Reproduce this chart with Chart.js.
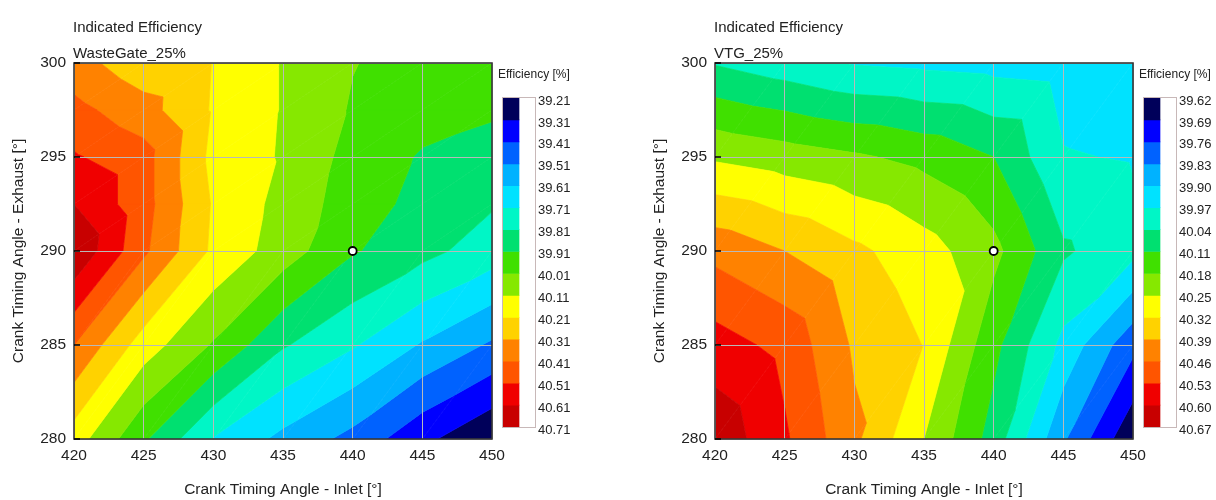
<!DOCTYPE html>
<html><head><meta charset="utf-8">
<script src="https://cdn.jsdelivr.net/npm/chart.js@4.4.1/dist/chart.umd.min.js"></script>
<style>
html,body{margin:0;padding:0;background:#fff;}
body{width:1216px;height:500px;position:relative;overflow:hidden;}
.c{position:absolute;top:0;}
</style></head><body>
<div class="c" style="left:0px"><canvas id="m1" width="512" height="500"></canvas></div>
<div class="c" style="left:495px"><canvas id="b1" width="110" height="500"></canvas></div>
<div class="c" style="left:641px"><canvas id="m2" width="512" height="500"></canvas></div>
<div class="c" style="left:1136px"><canvas id="b2" width="80" height="500"></canvas></div>
<script>
// ---------------- data ----------------
const inletAngles = [420, 425, 430, 435, 440, 445, 450];
const wgExhaustAngles = [280, 285, 290, 292.5, 295, 297.5, 300];
const vtgExhaustAngles = [280, 285, 290, 295, 300];
const wgLevels = [39.21, 39.31, 39.41, 39.51, 39.61, 39.71, 39.81, 39.91, 40.01, 40.11, 40.21, 40.31, 40.41, 40.51, 40.61, 40.71];
const vtgLevels = [39.62, 39.69, 39.76, 39.83, 39.90, 39.97, 40.04, 40.11, 40.18, 40.25, 40.32, 40.39, 40.46, 40.53, 40.60, 40.67];
const bandColors = ['#00005a', '#0000ff', '#0062ff', '#00b2ff', '#00e2ff', '#00f6c6', '#00e070', '#40e000', '#86e800', '#ffff00', '#ffd200', '#ff8200', '#ff5500', '#f00000', '#c80000'];
// WasteGate_25%: one row per exhaust angle, columns follow inletAngles
const wgEff280 = [40.16, 39.925, 39.705, 39.583, 39.479, 39.335, 39.22];
const wgEff285 = [40.41, 40.16, 40.00, 39.82, 39.72, 39.60, 39.495];
const wgEff290 = [40.70, 40.43, 40.19, 40.06, 39.92, 39.84, 39.76];
const wgEff2925 = [40.61, 40.45, 40.20, 40.077, 39.96, 39.878, 39.82];
const wgEff295 = [40.52, 40.45, 40.18, 40.10, 39.975, 39.90, 39.88];
const wgEff2975 = [40.44, 40.35, 40.20, 40.104, 40.00, 39.95, 39.92];
const wgEff300 = [40.35, 40.245, 40.206, 40.104, 40.014, 39.97, 39.97];
// VTG_25%
const vtgEff280 = [40.65, 40.54, 40.405, 40.25, 40.08, 39.84, 39.63];
const vtgEff285 = [40.56, 40.51, 40.38, 40.318, 40.13, 39.95, 39.78];
const vtgEff290 = [40.44, 40.39, 40.335, 40.28, 40.20, 40.05, 39.99];
const vtgEff295 = [40.24, 40.215, 40.19, 40.16, 40.11, 39.975, 39.965];
const vtgEff300 = [40.035, 40.00, 39.965, 39.955, 39.945, 39.935, 39.92];
const operatingPoint = [{x: 440, y: 290}];
const xTitle = 'Crank Timing Angle - Inlet [°]';
const yTitle = 'Crank Timing Angle - Exhaust [°]';
const chartTitle = 'Indicated Efficiency';
const cbTitle = 'Efficiency [%]';

// ---------------- helpers ----------------
const FONT = '"Liberation Sans", Arial, sans-serif';
Chart.defaults.font.family = FONT;
Chart.defaults.color = '#222';

function clipPoly(poly, level, keepAbove) {
  const out = [];
  for (let i = 0; i < poly.length; i++) {
    const a = poly[i], b = poly[(i + 1) % poly.length];
    const ina = keepAbove ? a.v >= level : a.v <= level;
    const inb = keepAbove ? b.v >= level : b.v <= level;
    if (ina) out.push(a);
    if (ina !== inb) {
      const t = (level - a.v) / (b.v - a.v);
      out.push({x: a.x + t * (b.x - a.x), y: a.y + t * (b.y - a.y), v: level});
    }
  }
  return out;
}

function contourPlugin(xsVals, ysVals, rows, levels) {
  return {
    id: 'contour',
    beforeDraw(chart) {
      const {ctx, chartArea: a, scales} = chart;
      const xs = scales.x, ys = scales.y;
      const nb = levels.length - 1;
      ctx.save();
      ctx.beginPath();
      ctx.rect(a.left, a.top, a.right - a.left, a.bottom - a.top);
      ctx.clip();
      ctx.lineJoin = 'round';
      ctx.lineWidth = 0.7;
      const P = (ii, jj) => ({x: xsVals[ii], y: ysVals[jj], v: rows[jj][ii]});
      for (let j = 0; j < ysVals.length - 1; j++) {
        for (let i = 0; i < xsVals.length - 1; i++) {
          const p00 = P(i, j), p10 = P(i + 1, j), p01 = P(i, j + 1), p11 = P(i + 1, j + 1);
          const tris = [[p00, p10, p11], [p00, p11, p01]];
          for (const tri of tris) {
            for (let b = 0; b < nb; b++) {
              let poly = tri;
              if (b > 0) poly = clipPoly(poly, levels[b], true);
              if (poly.length < 3) continue;
              if (b < nb - 1) poly = clipPoly(poly, levels[b + 1], false);
              if (poly.length < 3) continue;
              ctx.beginPath();
              poly.forEach((p, k) => {
                const px = xs.getPixelForValue(p.x), py = ys.getPixelForValue(p.y);
                if (k === 0) ctx.moveTo(px, py); else ctx.lineTo(px, py);
              });
              ctx.closePath();
              ctx.fillStyle = bandColors[b];
              ctx.strokeStyle = bandColors[b];
              ctx.fill();
              ctx.stroke();
            }
          }
        }
      }
      ctx.restore();
    },
    afterDraw(chart) {
      const {ctx, chartArea: a, scales} = chart;
      ctx.save();
      ctx.strokeStyle = '#383838';
      ctx.lineWidth = 1.6;
      ctx.strokeRect(a.left, a.top, a.right - a.left, a.bottom - a.top);
      ctx.lineWidth = 1.5;
      ctx.strokeStyle = '#000';
      scales.y.ticks.forEach(t => {
        const py = scales.y.getPixelForValue(t.value);
        ctx.beginPath(); ctx.moveTo(a.left, py); ctx.lineTo(a.left + 6, py); ctx.stroke();
      });
      ctx.restore();
    }
  };
}

function titlePlugin(sub) {
  return {
    id: 'titles',
    afterDraw(chart) {
      const {ctx, chartArea: a} = chart;
      ctx.save();
      ctx.fillStyle = '#222';
      ctx.font = '15px ' + FONT;
      ctx.textBaseline = 'alphabetic';
      ctx.textAlign = 'left';
      ctx.fillText(chartTitle, a.left - 1, 32);
      ctx.fillText(sub, a.left - 1, 58);
      ctx.restore();
    }
  };
}

function makeMain(id, exhaust, rows, levels, sub) {
  new Chart(document.getElementById(id), {
    type: 'scatter',
    data: {datasets: [{
      data: operatingPoint,
      pointRadius: 4, pointHoverRadius: 4,
      pointBackgroundColor: '#fff', pointBorderColor: '#000', pointBorderWidth: 1.8,
      clip: false
    }]},
    options: {
      responsive: false, animation: false, devicePixelRatio: 1,
      events: [],
      layout: {padding: {top: 63, right: 20, left: 0, bottom: 0}},
      plugins: {legend: {display: false}, tooltip: {enabled: false}},
      scales: {
        x: {
          type: 'linear', min: 420, max: 450,
          ticks: {stepSize: 5, padding: 7, font: {size: 15.5}, color: '#222', maxRotation: 0},
          grid: {color: '#b9b9b9', lineWidth: 1, drawTicks: false},
          border: {display: false},
          title: {display: true, text: xTitle, font: {size: 15.5}, color: '#222', padding: {top: 0, bottom: 1}},
          afterFit(s) { s.height = 61; }
        },
        y: {
          type: 'linear', min: 280, max: 300,
          ticks: {stepSize: 5, padding: 8, font: {size: 15.5}, color: '#222'},
          grid: {color: '#b9b9b9', lineWidth: 1, drawTicks: false},
          border: {display: false},
          title: {display: true, text: yTitle, font: {size: 15.5}, color: '#222', padding: {top: 9, bottom: 0}},
          afterFit(s) { s.width = 74; }
        }
      }
    },
    plugins: [contourPlugin(inletAngles, exhaust, rows, levels), titlePlugin(sub)]
  });
}

function makeColorbar(id, levels, cw) {
  const datasets = bandColors.map((c, b) => ({
    data: [[levels[b], levels[b + 1]]],
    backgroundColor: c, borderWidth: 0,
    barPercentage: 1, categoryPercentage: 1, grouped: false
  }));
  new Chart(document.getElementById(id), {
    type: 'bar',
    data: {labels: ['band'], datasets},
    options: {
      responsive: false, animation: false, devicePixelRatio: 1,
      events: [],
      layout: {padding: {top: 98, bottom: 73, left: 8, right: 0}},
      plugins: {legend: {display: false}, tooltip: {enabled: false}},
      scales: {
        x: {type: 'category', display: false, offset: false},
        y: {
          type: 'linear', position: 'right', reverse: true,
          min: levels[0], max: levels[levels.length - 1],
          afterBuildTicks(s) { s.ticks = levels.map(v => ({value: v})); },
          ticks: {padding: 3, labelOffset: 3, font: {size: 13}, color: '#222', autoSkip: false, callback: v => Number(v).toFixed(2)},
          grid: {display: false, drawTicks: false},
          border: {display: false},
          afterFit(s) { s.width = cw - 40; }
        }
      }
    },
    plugins: [{
      id: 'cbdeco',
      afterDraw(chart) {
        const {ctx, chartArea: a} = chart;
        ctx.save();
        ctx.strokeStyle = '#c8b8b8';
        ctx.lineWidth = 1;
        ctx.strokeRect(a.left - 0.5, a.top - 0.5, a.right - a.left + 1, a.bottom - a.top + 1);
        ctx.fillStyle = '#222';
        ctx.font = '12px ' + FONT;
        ctx.textBaseline = 'middle';
        ctx.textAlign = 'left';
        ctx.fillText(cbTitle, 3, 75);
        ctx.restore();
      }
    }]
  });
}

makeMain('m1', wgExhaustAngles, [wgEff280, wgEff285, wgEff290, wgEff2925, wgEff295, wgEff2975, wgEff300], wgLevels, 'WasteGate_25%');
makeMain('m2', vtgExhaustAngles, [vtgEff280, vtgEff285, vtgEff290, vtgEff295, vtgEff300], vtgLevels, 'VTG_25%');
makeColorbar('b1', wgLevels, 110);
makeColorbar('b2', vtgLevels, 80);
</script>
</body></html>
